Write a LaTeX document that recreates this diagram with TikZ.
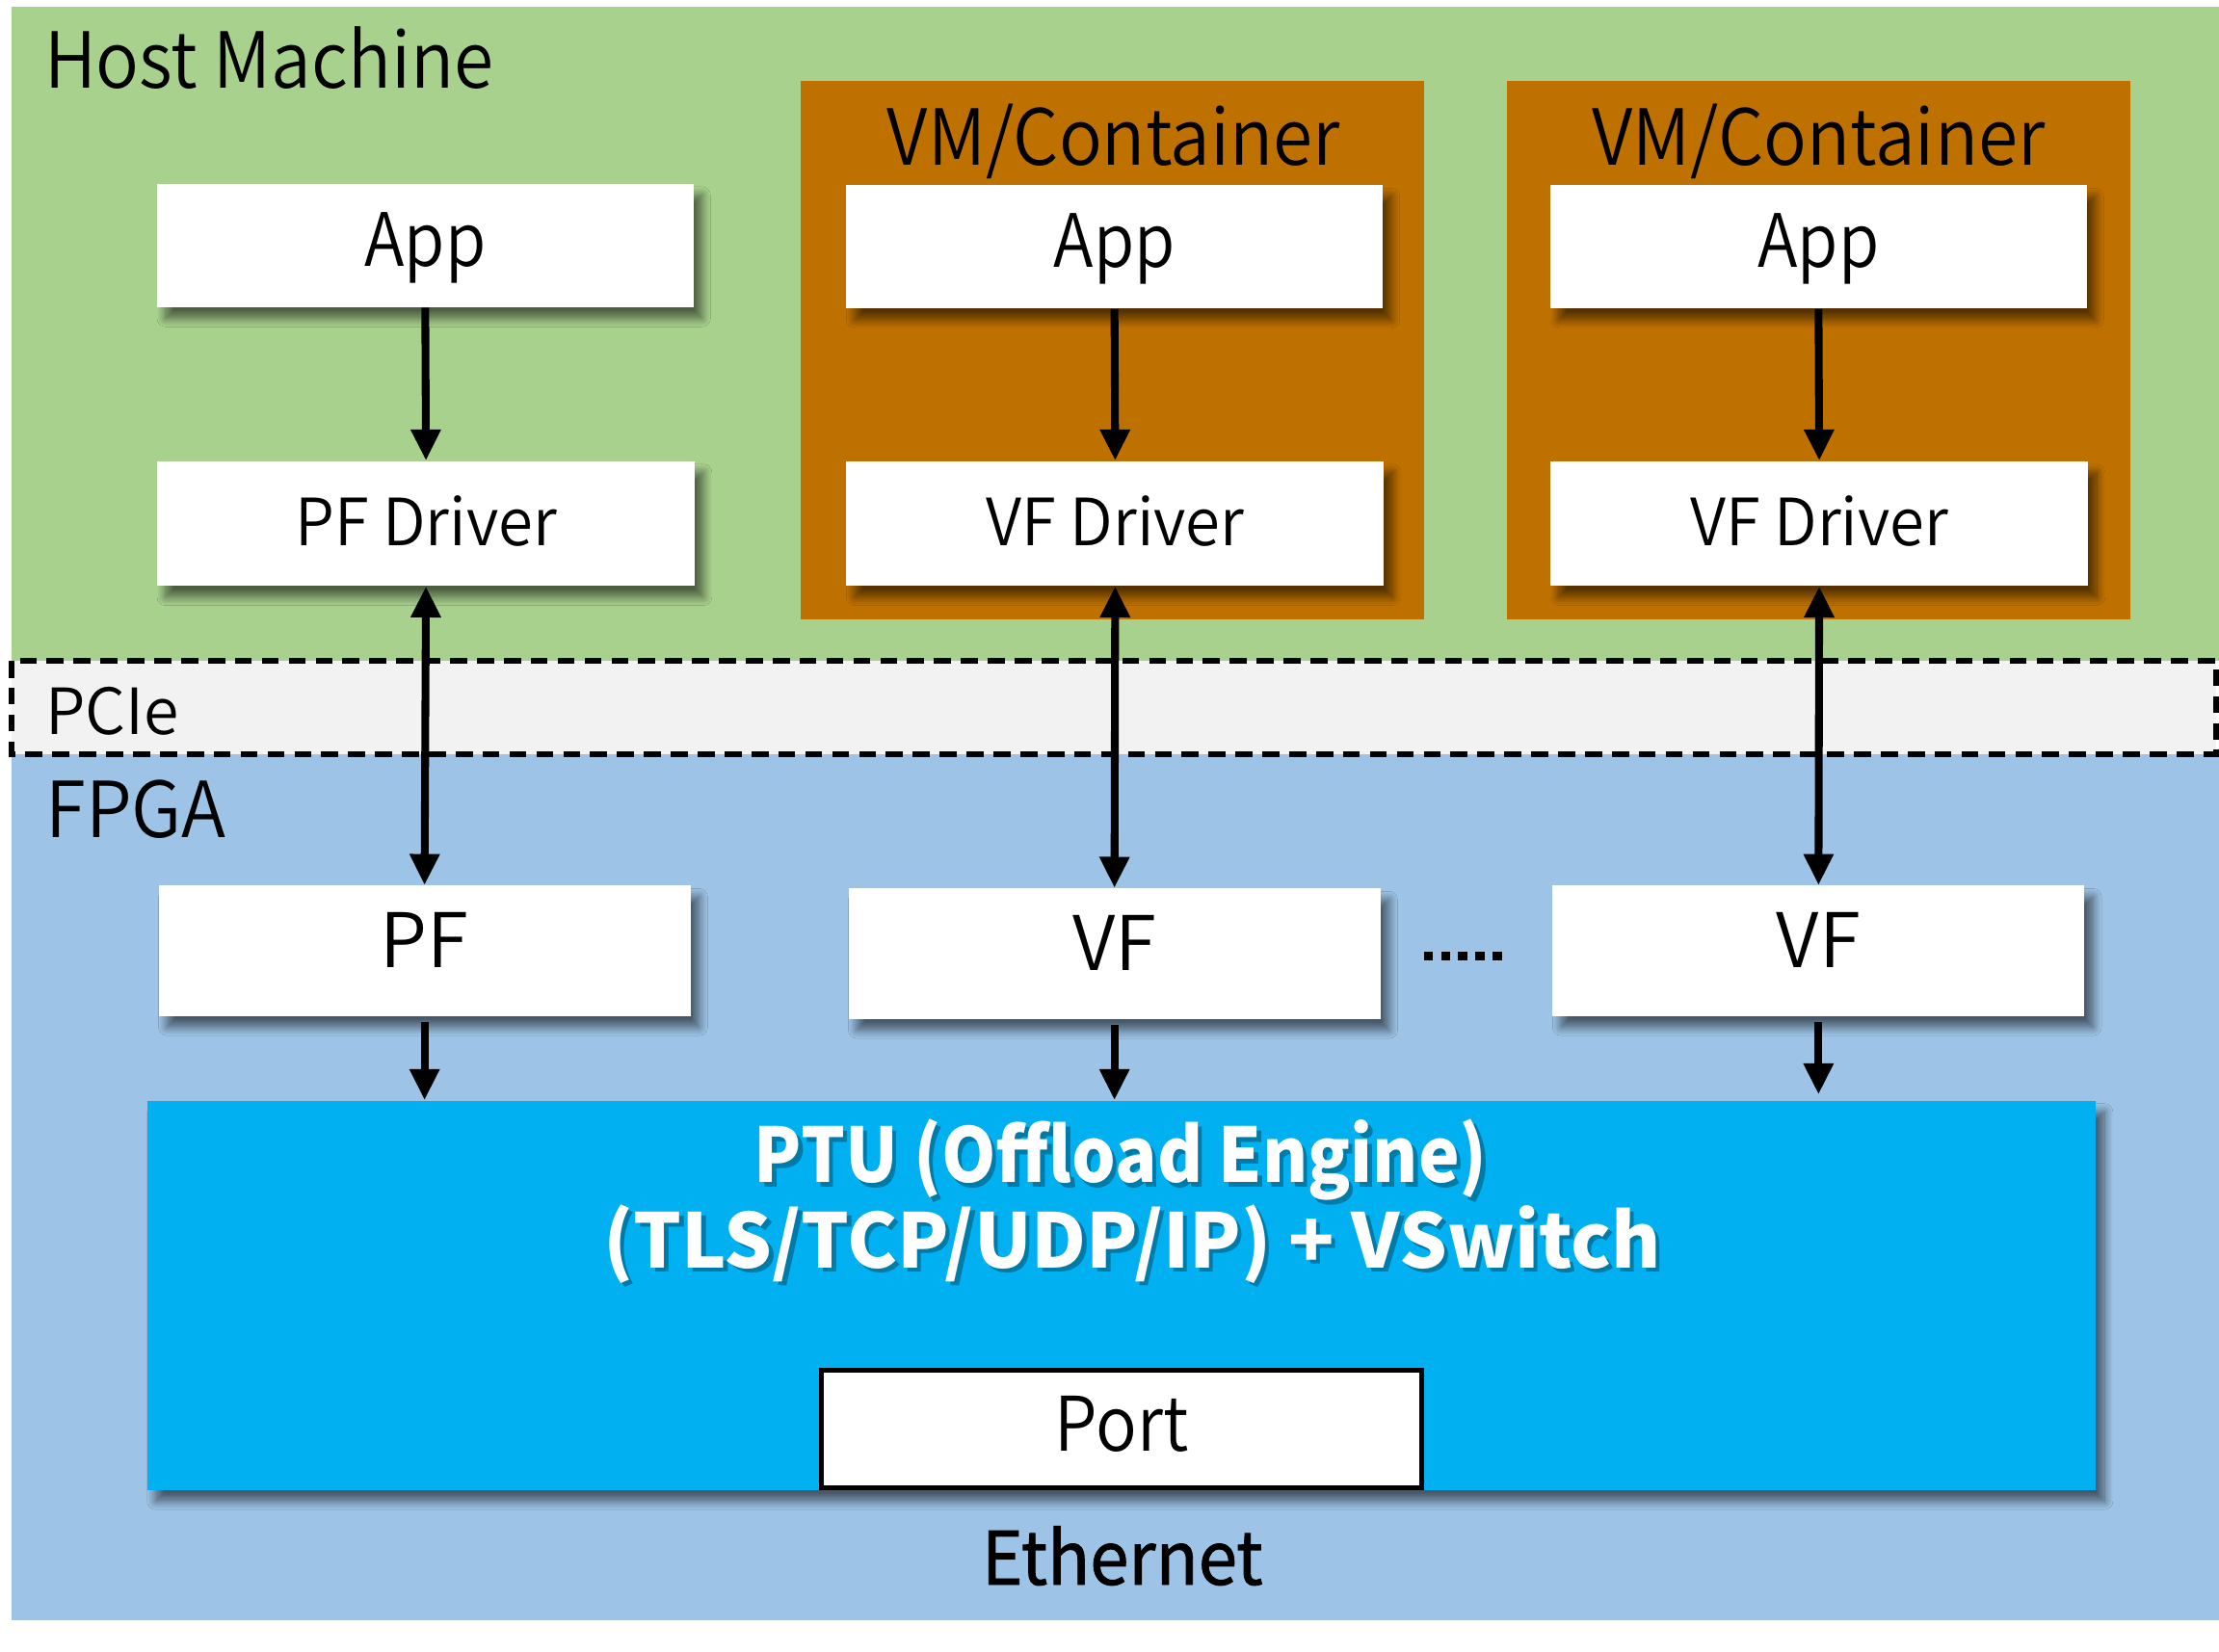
\documentclass[tikz,border=0pt]{standalone}
\usepackage{fontspec}
\usepackage{graphicx}
\IfFontExistsTF{Noto Sans CJK JP DemiLight}{\setmainfont{Noto Sans CJK JP DemiLight}}{\setmainfont{Noto Sans CJK JP}}
\newfontfamily\medfont[FakeBold=1.2]{Noto Sans CJK JP}
\newfontfamily\ptufont{Noto Sans CJK JP}
\newcommand\hs[2]{\scalebox{#1}[1]{#2}}
\usetikzlibrary{arrows.meta,shadows.blur}
\definecolor{hostgreen}{HTML}{A9D18E}
\definecolor{vmorange}{HTML}{BF7100}
\definecolor{pciegray}{HTML}{F2F2F2}
\definecolor{fpgablue}{HTML}{9DC3E6}
\definecolor{ptublue}{HTML}{00B0F0}
\tikzset{
  shad/.style={blur shadow={shadow xshift=3pt,shadow yshift=-4pt,shadow blur radius=3pt,shadow blur steps=12,shadow opacity=55}},
  wbox/.style={fill=white, shad, inner sep=0pt, align=center},
  appbox/.style={wbox, minimum width=189.5pt, minimum height=43.5pt, font=\fontsize{26}{30}\selectfont, text height=19pt, text depth=4.5pt},
  drvbox/.style={wbox, minimum width=190pt, minimum height=44pt, font=\fontsize{23}{27}\selectfont, text height=17pt, text depth=1pt},
  fnbox/.style={wbox, minimum width=188pt, minimum height=46pt, font=\fontsize{26.6}{30}\selectfont, text height=19.5pt, text depth=7.5pt},
  portbox/.style={fill=white, draw=black, line width=1.5pt, inner sep=0pt, minimum width=212pt, minimum height=41.5pt, font=\fontsize{26.6}{30}\selectfont, text height=19.5pt, text depth=3.5pt},
  ptubox/.style={fill=ptublue, shad, inner sep=0pt, minimum width=688.5pt, minimum height=137.5pt},
  vmbox/.style={fill=vmorange, inner sep=0pt, minimum width=220pt, minimum height=190.5pt},
  lbl/.style={inner sep=0pt, font=\fontsize{27.3}{30}\selectfont},
  pcielbl/.style={inner sep=0pt, font=\fontsize{22.5}{26}\selectfont},
  ptutext/.style={inner sep=0pt, text=white, font=\fontsize{26.6}{30}\selectfont\ptufont\bfseries},
  ptushadow/.style={inner sep=0pt, text=black, opacity=0.3, font=\fontsize{26.6}{30}\selectfont\ptufont\bfseries},
  ethlbl/.style={inner sep=0pt, font=\fontsize{26}{30}\selectfont\medfont},
  pcieband/.style={fill=pciegray, draw=black, line width=1.9pt, dash pattern=on 6pt off 3.5pt},
  flow/.style={line width=2.75pt, -{Triangle[length=11pt,width=10pt]}},
  biflow/.style={line width=2.75pt, {Triangle[length=11pt,width=10pt]}-{Triangle[length=11pt,width=10pt]}},
  dots/.style={line width=3pt, dash pattern=on 3.3pt off 2.8pt}
}
\begin{document}
\begin{tikzpicture}[x=0.5pt,y=-0.5pt]
\useasboundingbox (0,0) rectangle (1568,1167.6);
\fill[white] (0,0) rectangle (1568,1167.6);
% regions
\fill[hostgreen] (8,5) rectangle (1568,467);
\fill[fpgablue] (8,533) rectangle (1568,1145);
\draw[pcieband] (8,467) rectangle (1566,533);
\node[vmbox] (vm1) at (786,247.5) {};
\node[vmbox] (vm2) at (1285,247.5) {};
% labels
\node[lbl, anchor=base west] (hostlbl) at (31,62) {\hs{0.93}{Host Machine}};
\node[lbl, anchor=base] (vm1lbl) at (787,117) {\hs{0.93}{VM/Container}};
\node[lbl, anchor=base] (vm2lbl) at (1285,117) {\hs{0.93}{VM/Container}};
\node[pcielbl, anchor=base west] (pcielbl) at (32,519) {PCIe};
\node[lbl, anchor=base west] (fpgalbl) at (32,592) {\hs{0.95}{FPGA}};
% host side boxes
\node[appbox] (happ) at (300.5,173.5) {\hs{0.9}{App}};
\node[drvbox] (hdrv) at (301,370) {\hs{0.965}{PF Driver}};
\node[appbox] (app1) at (787.5,174.5) {\hs{0.9}{App}};
\node[drvbox] (drv1) at (788,370) {\hs{0.965}{VF Driver}};
\node[appbox] (app2) at (1285,174.5) {\hs{0.9}{App}};
\node[drvbox] (drv2) at (1285.5,370) {\hs{0.965}{VF Driver}};
% FPGA side
\node[fnbox] (pf) at (300,672) {PF};
\node[fnbox] (vf1) at (787.5,674) {VF};
\node[fnbox] (vf2) at (1285,672) {VF};
\coordinate (dotsa) at (1006,676);
\coordinate (dotsb) at (1065,676);
\draw[dots] (dotsa) -- (dotsb);
\node[ptubox] (ptu) at (792.5,915.5) {};
\node[ptushadow, anchor=base] (ptu1s) at (795,839) {\hs{0.92}{PTU (Offload Engine)}};
\node[ptushadow, anchor=base] (ptu2s) at (803,899) {(TLS/TCP/UDP/IP) + VSwitch};
\node[ptutext, anchor=base] (ptu1) at (792,836) {\hs{0.92}{PTU (Offload Engine)}};
\node[ptutext, anchor=base] (ptu2) at (800,896) {(TLS/TCP/UDP/IP) + VSwitch};
\node[portbox] (port) at (792.5,1010) {\hs{0.91}{Port}};
\node[ethlbl, anchor=base] (eth) at (793,1120) {\hs{0.95}{Ethernet}};
% connectors
\draw[flow] (happ.south) -- (hdrv.north);
\draw[flow] (app1.south) -- (drv1.north);
\draw[flow] (app2.south) -- (drv2.north);
\draw[biflow] (hdrv.south) -- (pf.north);
\draw[biflow] (drv1.south) -- (vf1.north);
\draw[biflow] (drv2.south) -- (vf2.north);
\draw[flow, shorten <=2pt] (pf.south) -- (pf.south |- ptu.north);
\draw[flow, shorten <=2pt] (vf1.south) -- (vf1.south |- ptu.north);
\draw[flow, shorten <=2pt, shorten >=2pt] (vf2.south) -- (vf2.south |- ptu.north);
\end{tikzpicture}
\end{document}
